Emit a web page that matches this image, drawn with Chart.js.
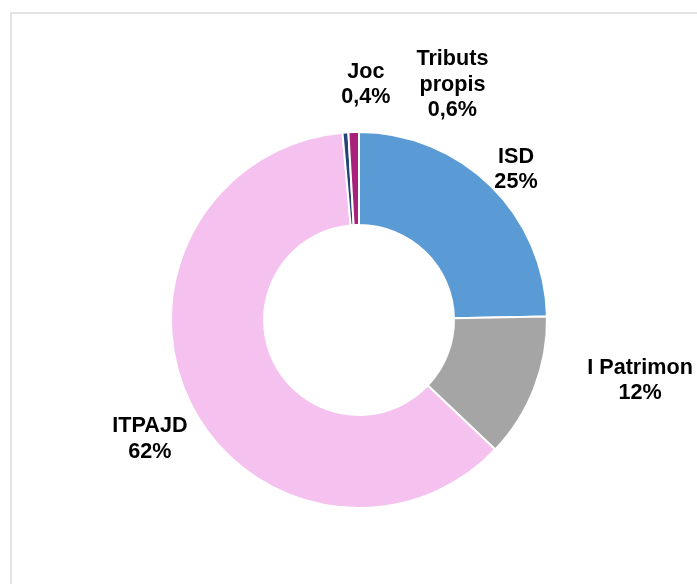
<!DOCTYPE html>
<html>
<head>
<meta charset="utf-8">
<script src="https://cdn.jsdelivr.net/npm/chart.js@4/dist/chart.umd.min.js"></script>
<style>
  html, body { margin: 0; padding: 0; background: #ffffff; }
  #frame { position: absolute; left: 10px; top: 12px; width: 720px; height: 620px; border: 2px solid #e3e3e3; box-sizing: border-box; }
  #wrap { position: absolute; left: 0; top: 0; width: 697px; height: 584px; }
</style>
</head>
<body>
<div id="frame"></div>
<div id="wrap"><canvas id="chart"></canvas></div>
<script>
// Tax revenue breakdown (doughnut)
const categories = ['ISD', 'I Patrimon', 'ITPAJD', 'Joc', 'Tributs propis'];
const values = [24.7, 12.4, 61.5, 0.5, 0.9];
const labelText = [['ISD', '25%'], ['I Patrimon', '12%'], ['ITPAJD', '62%'], ['Joc', '0,4%'], ['Tributs', 'propis', '0,6%']];
const colors = ['#5b9bd5', '#a5a5a5', '#f5c1ef', '#264478', '#a8227b'];

// label anchors, relative to the chart centre in units of the outer radius
const labelPos = [[0.835, -0.80], [1.495, 0.322], [-1.112, 0.633], [0.037, -1.252], [0.497, -1.252]];

const outsideLabels = {
    id: 'outsideLabels',
    afterDatasetsDraw(chart) {
        const ctx = chart.ctx;
        const arc = chart.getDatasetMeta(0).data[0];
        const cx = arc.x, cy = arc.y, r = arc.outerRadius;
        ctx.save();
        ctx.fillStyle = '#000000';
        ctx.font = 'bold 21.6px "Liberation Sans", Arial, sans-serif';
        ctx.textAlign = 'center';
        ctx.textBaseline = 'middle';
        const lh = 25.5;
        labelText.forEach((lines, i) => {
            const x = cx + labelPos[i][0] * r;
            const y = cy + labelPos[i][1] * r;
            const y0 = y - (lines.length - 1) * lh / 2;
            lines.forEach((t, j) => ctx.fillText(t, x, y0 + j * lh));
        });
        ctx.restore();
    }
};

new Chart(document.getElementById('chart'), {
    type: 'doughnut',
    data: {
        labels: categories,
        datasets: [{
            data: values,
            backgroundColor: colors,
            borderColor: '#ffffff',
            borderWidth: 2
        }]
    },
    options: {
        responsive: true,
        maintainAspectRatio: false,
        animation: false,
        cutout: '50.5%',
        layout: {
            padding: { left: 170, right: 149, top: 131, bottom: 75 }
        },
        plugins: {
            legend: { display: false },
            tooltip: { enabled: false }
        }
    },
    plugins: [outsideLabels]
});
</script>
</body>
</html>
